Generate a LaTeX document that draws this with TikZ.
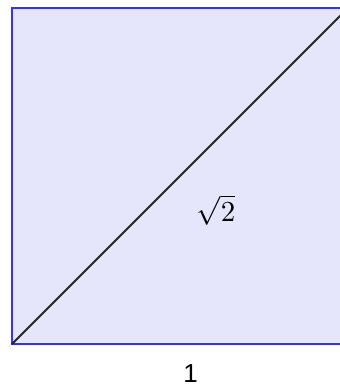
\documentclass[tikz,border=0pt]{standalone}
\usepackage{fontspec}
\newfontfamily\labelfont{Liberation Sans}
\definecolor{sqfill}{RGB}{229,229,252}
\definecolor{sqedge}{RGB}{50,50,250}
\begin{document}
\begin{tikzpicture}[x=1pt,y=-1pt,
  edge/.style={draw=sqedge,line width=2.8pt,fill=sqfill},
  diag/.style={draw=black!85,line width=1.9pt},
  lab/.style={inner sep=0pt}]
\useasboundingbox (0,0) rectangle (340,389);
\begin{scope}
\clip (0,0) rectangle (340,389);
\coordinate (A) at (12,344);
\coordinate (C) at (348,8);
\path[edge] (A) rectangle (C);
\draw[diag] (A) -- (C);
\end{scope}
\node[lab,scale=2.9] (r) at (216,210) {$\sqrt{2}$};
\node[lab,font=\labelfont,scale=2.6] (one) at (190.5,374) {1};
\end{tikzpicture}
\end{document}
